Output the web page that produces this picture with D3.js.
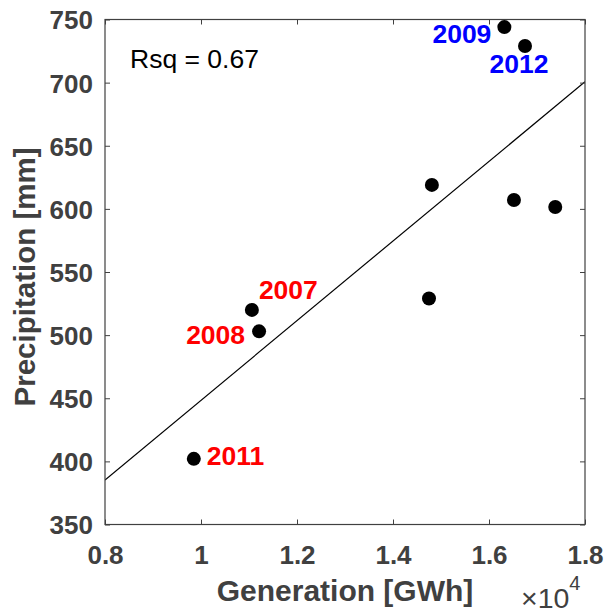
<!DOCTYPE html>
<html>
<head>
<meta charset="utf-8">
<script src="https://cdn.jsdelivr.net/npm/d3@7"></script>
<style>
  html, body { margin: 0; padding: 0; background: #fff; }
  svg { display: block; font-family: "Liberation Sans", Arial, Helvetica, sans-serif; }
</style>
</head>
<body>
<svg id="chart" width="605" height="615"></svg>
<script>
// ---- data ----
const years = ["2007", "2008", "2009", "2010", "2011", "2012", "2013", "2014", "2015"];
const generation = [11060, 11210, 16320, 14810, 9850, 16750, 14750, 16520, 17380]; // GWh
const precipitation = [520, 503, 744, 619, 402, 729, 529, 607, 601.5];           // mm
const labeledYears = ["2007", "2008", "2009", "2011", "2012"];
const labelGroup = ["dry", "dry", "wet", "dry", "wet"];
const xTicks = [0.8, 1, 1.2, 1.4, 1.6, 1.8];
const yTicks = [350, 400, 450, 500, 550, 600, 650, 700, 750];
const rsqReported = 0.67;

// ---- label placement (style, not data) ----
const labelPlacement = {
  "2007": { dx: 7, dy: -11, anchor: "start" },
  "2008": { dx: -14, dy: 13, anchor: "end" },
  "2009": { dx: -13, dy: 16, anchor: "end" },
  "2011": { dx: 13, dy: 6, anchor: "start" },
  "2012": { dx: -6, dy: 27, anchor: "middle" }
};
const groupColor = { dry: "#ff0000", wet: "#0000ff" };

const svg = d3.select("#chart");
const L = 105, R = 585, T = 19.5, B = 524.5;
const axisColor = "#404040";

const x = d3.scaleLinear().domain([0.8, 1.8]).range([L, R]);
const y = d3.scaleLinear().domain([350, 750]).range([B, T]);

const pts = years.map((yr, i) => ({ yr, gx: generation[i] / 1e4, p: precipitation[i] }));

// least-squares regression line
const mx = d3.mean(pts, d => d.gx), my = d3.mean(pts, d => d.p);
const sxy = d3.sum(pts, d => (d.gx - mx) * (d.p - my));
const sxx = d3.sum(pts, d => (d.gx - mx) ** 2);
const slope = sxy / sxx, icpt = my - slope * mx;

// clip
svg.append("defs").append("clipPath").attr("id", "clip")
  .append("rect").attr("x", L).attr("y", T).attr("width", R - L).attr("height", B - T);

// regression line
const x0 = 0.8, x1 = 1.8;
svg.append("line")
  .attr("clip-path", "url(#clip)")
  .attr("x1", x(x0)).attr("y1", y(icpt + slope * x0))
  .attr("x2", x(x1)).attr("y2", y(icpt + slope * x1))
  .attr("stroke", "#000").attr("stroke-width", 1.2);

// axes
const tickLen = 5;
const gx = svg.append("g").attr("transform", `translate(0,${B})`)
  .call(d3.axisBottom(x).tickValues(xTicks).tickSize(-tickLen)
    .tickFormat(d => d3.format("~g")(d)));
const gxTop = svg.append("g").attr("transform", `translate(0,${T})`)
  .call(d3.axisTop(x).tickValues(xTicks).tickSize(-tickLen).tickFormat(""));
const gy = svg.append("g").attr("transform", `translate(${L},0)`)
  .call(d3.axisLeft(y).tickValues(yTicks).tickSize(-tickLen));
const gyR = svg.append("g").attr("transform", `translate(${R},0)`)
  .call(d3.axisRight(y).tickValues(yTicks).tickSize(-tickLen).tickFormat(""));

[gx, gxTop, gy, gyR].forEach(g => {
  g.select(".domain").remove();
  g.selectAll(".tick line").attr("stroke", axisColor).attr("stroke-width", 1);
  g.selectAll(".tick text").attr("fill", axisColor)
    .style("font-size", "26px").style("font-weight", "bold");
});
gx.selectAll(".tick text").attr("y", 39).attr("dy", null);
gy.selectAll(".tick text").attr("x", -12).attr("dy", "0.36em");

// box
svg.append("rect").attr("x", L).attr("y", T).attr("width", R - L).attr("height", B - T)
  .attr("fill", "none").attr("stroke", axisColor).attr("stroke-width", 1.2);

// points
svg.append("g").selectAll("circle").data(pts).join("circle")
  .attr("cx", d => x(d.gx)).attr("cy", d => y(d.p)).attr("r", 7)
  .attr("fill", "#000");

// year labels
svg.append("g").selectAll("text").data(labeledYears.map((yr, i) => {
    const d = pts.find(p => p.yr === yr);
    return { ...d, grp: labelGroup[i] };
  })).join("text")
  .attr("x", d => x(d.gx) + labelPlacement[d.yr].dx)
  .attr("y", d => y(d.p) + labelPlacement[d.yr].dy)
  .attr("text-anchor", d => labelPlacement[d.yr].anchor)
  .attr("fill", d => groupColor[d.grp])
  .style("font-size", "26.5px").style("font-weight", "bold")
  .text(d => d.yr);

// Rsq
svg.append("text").attr("x", 130).attr("y", 68)
  .style("font-size", "26.5px").attr("fill", "#000")
  .text(`Rsq = ${rsqReported.toFixed(2)}`);

// axis labels
svg.append("text").attr("x", (L + R) / 2).attr("y", 601)
  .attr("text-anchor", "middle").attr("fill", axisColor)
  .style("font-size", "30px").style("font-weight", "bold")
  .text("Generation [GWh]");
svg.append("text")
  .attr("transform", `translate(35,${(T + B) / 2 + 5}) rotate(-90)`)
  .attr("text-anchor", "middle").attr("fill", axisColor)
  .style("font-size", "29.5px").style("font-weight", "bold")
  .text("Precipitation [mm]");

// exponent
const ex = svg.append("text").attr("x", 521).attr("y", 608).attr("fill", axisColor)
  .style("font-size", "28.5px");
ex.append("tspan").text("\u00d7");
ex.append("tspan").text("10");
ex.append("tspan").attr("dy", -18).style("font-size", "20px").text("4");
</script>
</body>
</html>
